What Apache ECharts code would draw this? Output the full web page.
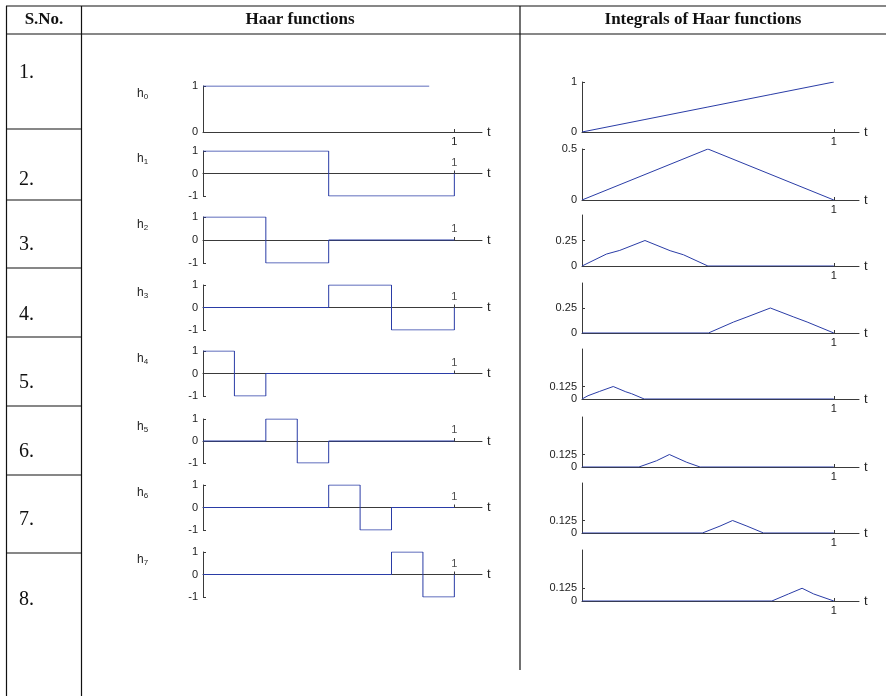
<!DOCTYPE html>
<html>
<head>
<meta charset="utf-8">
<script src="https://cdn.jsdelivr.net/npm/echarts@6/dist/echarts.min.js"></script>
<style>
  html, body { margin: 0; padding: 0; background: #fff; }
  #chart { width: 886px; height: 696px; }
</style>
</head>
<body>
<div id="chart"></div>
<script>
// 表头和行号
var headers = ['S.No.', 'Haar functions', 'Integrals of Haar functions'];
var rowNumbers = ['1.', '2.', '3.', '4.', '5.', '6.', '7.', '8.'];

// Haar 函数 h0..h7，点为 [t, h(t)]
var h0 = [[0, 1], [0.9, 1]];
var h1 = [[0, 1], [0.5, 1], [0.5, -1], [1, -1], [1, 0]];
var h2 = [[0, 1], [0.25, 1], [0.25, -1], [0.5, -1], [0.5, 0], [1, 0]];
var h3 = [[0, 0], [0.5, 0], [0.5, 1], [0.75, 1], [0.75, -1], [1, -1], [1, 0]];
var h4 = [[0, 1], [0.125, 1], [0.125, -1], [0.25, -1], [0.25, 0], [1, 0]];
var h5 = [[0, 0], [0.25, 0], [0.25, 1], [0.375, 1], [0.375, -1], [0.5, -1], [0.5, 0], [1, 0]];
var h6 = [[0, 0], [0.5, 0], [0.5, 1], [0.625, 1], [0.625, -1], [0.75, -1], [0.75, 0], [1, 0]];
var h7 = [[0, 0], [0.75, 0], [0.75, 1], [0.875, 1], [0.875, -1], [1, -1], [1, 0]];

// Haar 函数的积分
var p0 = [[0, 0], [0.25, 0.25], [0.5, 0.5], [0.75, 0.75], [1, 1]];
var p1 = [[0, 0], [0.5, 0.5], [1, 0]];
var p2 = [[0, 0], [0.097, 0.117], [0.15, 0.153], [0.25, 0.25], [0.35, 0.15], [0.403, 0.11], [0.5, 0], [1, 0]];
var p3 = [[0, 0], [0.502, 0], [0.602, 0.11], [0.655, 0.16], [0.748, 0.25], [0.841, 0.16], [0.894, 0.11], [1, 0]];
var p4 = [[0, 0], [0.024, 0.033], [0.07, 0.076], [0.124, 0.125], [0.174, 0.072], [0.197, 0.053], [0.247, 0], [1, 0]];
var p5 = [[0, 0], [0.226, 0], [0.296, 0.0625], [0.347, 0.125], [0.416, 0.047], [0.469, 0], [1, 0]];
var p6 = [[0, 0], [0.478, 0], [0.548, 0.069], [0.598, 0.125], [0.655, 0.069], [0.721, 0], [1, 0]];
var p7 = [[0, 0], [0.754, 0], [0.82, 0.069], [0.874, 0.125], [0.92, 0.069], [1, 0]];

// 坐标轴刻度
var haarTicks0 = [0, 1];
var haarTicks = [-1, 0, 1];
var intTicks = [[0, 1], [0, 0.5], [0, 0.25], [0, 0.25], [0, 0.125], [0, 0.125], [0, 0.125], [0, 0.125]];
var intMax = [1, 0.5, 0.5, 0.5, 0.5, 0.5, 0.5, 0.5];
var tTicks = [1];

var haarRows = [h0, h1, h2, h3, h4, h5, h6, h7];
var intRows = [p0, p1, p2, p3, p4, p5, p6, p7];

// 布局（像素）
var leftTop = [86, 151, 217, 285, 351, 419, 485, 552];
var leftHeight = [46, 45, 46, 45, 45, 44, 45, 45];
var rightTop = [82, 149, 215, 283, 349, 417, 483, 550];
var rightHeight = [50, 51, 51, 50, 50, 50, 50, 51];
var leftTUp = [9, 3, 0, 1, 0, 0, 0, 3];
var rightTUp = [8, 10, 5, 6, 6, 5, 6, 6];
var rowNumY = [73, 180, 245, 315, 383, 452, 520, 600];
var sepY = [129, 200, 268, 337, 406, 475, 553];

var sans = '"Liberation Sans", Arial, sans-serif';
var serif = '"Liberation Serif", "Times New Roman", serif';
var lineColor = '#2a3ca6';
var axisColor = '#3a3a3a';

var myChart = echarts.init(document.getElementById('chart'));
var option = {
  animation: false,
  grid: [], xAxis: [], yAxis: [], series: [], graphic: []
};

function addPlot(data, left, top, width, height, xMax, yMin, yMax, yTicks, labelAbove, tUp) {
  var g = option.grid.length;
  option.grid.push({ left: left, top: top, width: width, height: height });
  option.xAxis.push({
    type: 'value', gridIndex: g, min: 0, max: xMax,
    axisLine: { onZero: true, lineStyle: { color: axisColor, width: 1 } },
    axisTick: { inside: true, length: 3, customValues: tTicks, lineStyle: { color: axisColor } },
    axisLabel: { show: !labelAbove, margin: 4, customValues: tTicks, fontSize: 11, color: '#222', fontFamily: sans },
    splitLine: { show: false },
    name: 't', nameLocation: 'end', nameGap: 5,
    nameTextStyle: { fontSize: 13, color: '#222', fontFamily: sans, padding: [0, 0, tUp * 2, 0] }
  });
  option.yAxis.push({
    type: 'value', gridIndex: g, min: yMin, max: yMax,
    axisLine: { show: true, onZero: false, lineStyle: { color: axisColor, width: 1 } },
    axisTick: { show: true, inside: true, length: 3, customValues: yTicks, lineStyle: { color: axisColor } },
    axisLabel: { margin: 5, customValues: yTicks, fontSize: 11, color: '#222', fontFamily: sans },
    splitLine: { show: false }
  });
  option.series.push({
    type: 'line', xAxisIndex: g, yAxisIndex: g, data: data,
    symbol: 'none', lineStyle: { color: lineColor, width: 1 }
  });
  if (labelAbove) {
    // t = 1 的刻度值写在轴线上方
    option.series.push({
      type: 'scatter', xAxisIndex: g, yAxisIndex: g, silent: true,
      data: tTicks.map(function (v) { return [v, 0]; }),
      symbolSize: 1, itemStyle: { color: 'transparent' },
      label: { show: true, position: 'top', distance: 5, formatter: function (p) { return String(p.value[0]); },
        fontSize: 11, color: '#222', fontFamily: sans }
    });
  }
}

haarRows.forEach(function (d, i) {
  addPlot(d, 203, leftTop[i], 279, leftHeight[i], 1.11,
    i === 0 ? 0 : -1, 1, i === 0 ? haarTicks0 : haarTicks, i > 0, leftTUp[i]);
  option.graphic.push({
    type: 'text', left: 137, top: leftTop[i] + 2,
    style: {
      text: 'h{s|' + i + '}', fontSize: 12, fontFamily: sans, fill: '#222',
      rich: { s: { fontSize: 8, fontFamily: sans, fill: '#222', padding: [6, 0, 0, 0] } }
    }
  });
});

intRows.forEach(function (d, i) {
  addPlot(d, 582, rightTop[i], 277, rightHeight[i], 1.1,
    0, intMax[i], intTicks[i], false, rightTUp[i]);
});

// 表格线
function line(x1, y1, x2, y2) {
  option.graphic.push({
    type: 'line', silent: true,
    shape: { x1: x1, y1: y1, x2: x2, y2: y2 },
    style: { stroke: '#111', lineWidth: 1.2 }
  });
}
line(6, 6, 886, 6);
line(6, 34, 886, 34);
line(6.5, 6, 6.5, 696);
line(81.5, 6, 81.5, 696);
line(520, 6, 520, 670);
sepY.forEach(function (y) { line(6, y, 81.5, y); });

// 表头
var headX = [44, 300, 703];
headers.forEach(function (t, i) {
  option.graphic.push({
    type: 'text', x: headX[i], y: 20,
    style: { text: t, fontSize: 17, fontWeight: 'bold', fontFamily: serif, fill: '#111', align: 'center', verticalAlign: 'middle' }
  });
});
rowNumbers.forEach(function (t, i) {
  option.graphic.push({
    type: 'text', x: 19, y: rowNumY[i],
    style: { text: t, fontSize: 20, fontFamily: serif, fill: '#111', align: 'left', verticalAlign: 'middle' }
  });
});

myChart.setOption(option);
window.addEventListener('resize', function () {
  myChart.resize();
});
</script>
</body>
</html>
